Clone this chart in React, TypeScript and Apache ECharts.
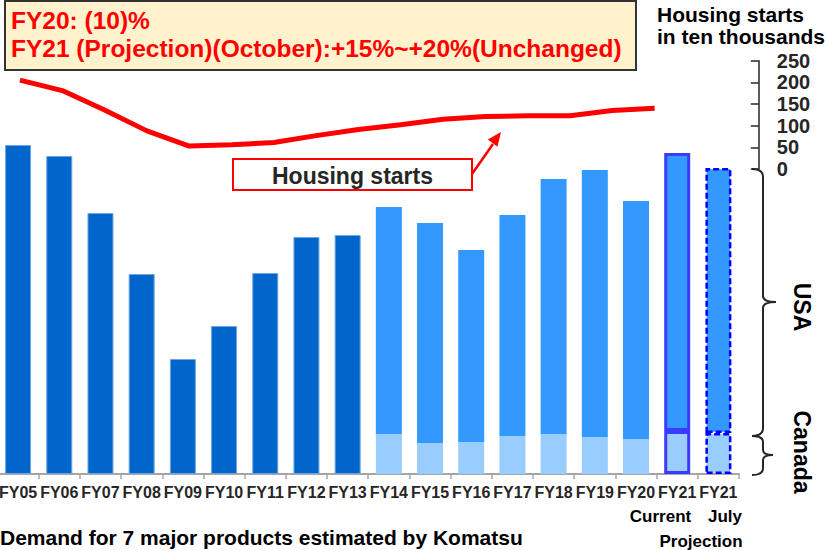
import React, { useEffect, useRef } from "react";
import * as echarts from "echarts";

const categories = ["FY05","FY06","FY07","FY08","FY09","FY10","FY11","FY12","FY13","FY14","FY15","FY16","FY17","FY18","FY19","FY20","FY21 Current","FY21 July"];
// Total demand FY05-FY13 (no regional split shown)
const totalDemand = [329, 318, 261, 200, 115, 148, 201, 237, 239];
// FY14 - FY21 split
const canadaDemand = [40, 31, 32, 38, 40, 37, 35, 43, 41];
const usaDemand = [227, 220, 192, 221, 255, 267, 238, 278, 265];
// Housing starts (ten thousands), FY05-FY20
const housingCats = ["FY05","FY06","FY07","FY08","FY09","FY10","FY11","FY12","FY13","FY14","FY15","FY16","FY17","FY18","FY19","FY20"];
const housingStarts = [205, 181, 136, 88, 53, 56, 61, 77, 91, 102, 115, 121, 123, 123, 135, 140];
const housingTicks = { min: 0, max: 250, interval: 50 };

const FONT = "'Liberation Sans', Arial, Helvetica, sans-serif";
const SHIFT = 4; // canvas starts 4px left of the page edge

echarts.graphic.registerShape(
  "brace1",
  echarts.graphic.extendPath(
    "M752,169 Q763,169 763,177 L763,296 Q763,302 776,302 Q763,302 763,308 L763,428 Q763,436 752,436",
    {}
  )
);
echarts.graphic.registerShape(
  "brace2",
  echarts.graphic.extendPath(
    "M752,436 Q763,436 763,442 L763,450 Q763,455 773,455 Q763,455 763,460 L763,468 Q763,475 752,475",
    {}
  )
);

function txt(text: string, x: number, y: number, size: number, color: string, align: string, extra: any = {}) {
  return {
    type: "text",
    x,
    y,
    z: 100,
    ...extra,
    style: {
      text,
      fill: color,
      fontSize: size,
      fontWeight: "bold",
      fontFamily: FONT,
      align,
      textAlign: align,
      verticalAlign: "middle",
      textVerticalAlign: "middle",
    },
  };
}

export default function App() {
  const ref = useRef<HTMLDivElement>(null);
  useEffect(() => {
    if (!ref.current) return;
    const chart = echarts.init(ref.current, undefined, { renderer: "svg" });
    const n = categories.length;
    const pad = totalDemand.length;
    const totalData = categories.map((_, i) => (i < pad ? totalDemand[i] : "-"));
    const curIdx = n - 2;
    const julIdx = n - 1;
    const curStyle = { borderColor: "#3B3BFF", borderWidth: 3, borderType: "solid" };
    const julStyle = { borderColor: "#0000FF", borderWidth: 2.5, borderType: [6, 3] };
    const mk = (arr: number[], color: string) =>
      categories.map((_, i) => {
        if (i < pad) return "-";
        const v = arr[i - pad];
        if (i === curIdx) return { value: v, itemStyle: { color, ...curStyle } };
        if (i === julIdx) return { value: v, itemStyle: { color, ...julStyle } };
        return v;
      });

    chart.setOption({
      animation: false,
      textStyle: { fontFamily: FONT },
      grid: [
        { left: 0, width: 743, top: 74, height: 400 },
        { left: 2.8, width: 677, top: 60.7, height: 108.3 },
      ],
      xAxis: [
        {
          type: "category",
          gridIndex: 0,
          data: categories,
          axisLine: { lineStyle: { color: "#A6A6A6", width: 2 } },
          axisTick: { show: true, length: 5, lineStyle: { color: "#A6A6A6", width: 1.5 } },
          axisLabel: {
            interval: 0,
            margin: 10,
            fontSize: 16,
            fontWeight: "bold",
            color: "#262626",
            fontFamily: FONT,
            formatter: (v: string) => (v.indexOf("FY21") === 0 ? "FY21" : v),
          },
        },
        { type: "category", gridIndex: 1, data: housingCats, show: false },
      ],
      yAxis: [
        { type: "value", gridIndex: 0, min: 0, max: 400, show: false, splitLine: { show: false } },
        {
          type: "value",
          gridIndex: 1,
          position: "right",
          offset: 83,
          min: housingTicks.min,
          max: housingTicks.max,
          interval: housingTicks.interval,
          splitLine: { show: false },
          axisLine: { show: true, lineStyle: { color: "#262626", width: 1.5 } },
          axisTick: { show: true, inside: true, length: 8, lineStyle: { color: "#262626", width: 1.5 } },
          axisLabel: { margin: 18, fontSize: 20, fontWeight: "bold", color: "#262626", fontFamily: FONT },
        },
      ],
      series: [
        {
          name: "Demand",
          type: "bar",
          stack: "d",
          barWidth: 26,
          data: totalData,
          itemStyle: { color: "#0066CC", borderColor: "#6FA6E0", borderWidth: 1 },
        },
        {
          name: "Canada",
          type: "bar",
          stack: "d",
          barWidth: 26,
          data: mk(canadaDemand, "#99CCFF"),
          itemStyle: { color: "#99CCFF" },
        },
        {
          name: "USA",
          type: "bar",
          stack: "d",
          barWidth: 26,
          data: mk(usaDemand, "#3399FF"),
          itemStyle: { color: "#3399FF" },
        },
        {
          name: "Housing starts",
          type: "line",
          xAxisIndex: 1,
          yAxisIndex: 1,
          data: housingStarts,
          symbol: "none",
          lineStyle: { color: "#FF0000", width: 5 },
          z: 10,
        },
      ],
      graphic: [
        {
          type: "group",
          x: SHIFT,
          y: 0,
          children: [
            {
              type: "rect",
              z: 90,
              shape: { x: 5, y: 1, width: 631, height: 69 },
              style: { fill: "#FFF2CC", stroke: "#333333", lineWidth: 2 },
            },
            txt("FY20: (10)%", 11, 20, 24.5, "#FF0000", "left"),
            txt("FY21 (Projection)(October):+15%~+20%(Unchanged)", 11, 48, 24.5, "#FF0000", "left"),
            txt("Housing starts", 657, 14, 21, "#000000", "left"),
            txt("in ten thousands", 657, 36.5, 21, "#000000", "left"),
            {
              type: "rect",
              z: 90,
              shape: { x: 233, y: 159, width: 239, height: 31 },
              style: { fill: "#FFFFFF", stroke: "#FF0000", lineWidth: 2 },
            },
            txt("Housing starts", 352.5, 175.5, 23, "#262626", "center"),
            {
              type: "line",
              z: 90,
              shape: { x1: 472, y1: 174, x2: 493, y2: 144 },
              style: { stroke: "#FF0000", lineWidth: 2.5 },
            },
            {
              type: "polygon",
              z: 90,
              shape: { points: [[501, 132], [497.4, 146.8], [487.8, 139.6]] },
              style: { fill: "#FF0000" },
            },
            { type: "brace1", x: 0, y: 0, z: 90, style: { stroke: "#262626", lineWidth: 2, fill: "none" } },
            { type: "brace2", x: 0, y: 0, z: 90, style: { stroke: "#262626", lineWidth: 2, fill: "none" } },
            txt("USA", 802, 307, 23, "#000000", "center", { rotation: -Math.PI / 2 }),
            txt("Canada", 802, 452, 23, "#000000", "center", { rotation: -Math.PI / 2 }),
            txt("Current", 660.5, 516, 17, "#000000", "center"),
            txt("July", 725, 516, 17, "#000000", "center"),
            txt("Projection", 701, 541, 17, "#000000", "center"),
            txt("Demand for 7 major products estimated by Komatsu", 0, 537, 21, "#000000", "left"),
          ],
        },
      ],
    });
    return () => chart.dispose();
  }, []);
  return (
    <div
      ref={ref}
      style={{ position: "fixed", left: -SHIFT, top: 0, width: 829 + SHIFT, height: 550, background: "#FFFFFF" }}
    />
  );
}
